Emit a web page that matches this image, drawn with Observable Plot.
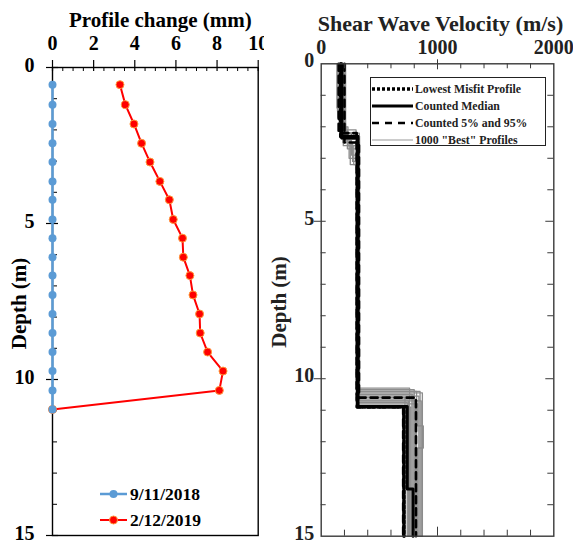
<!DOCTYPE html>
<html><head><meta charset="utf-8">
<script src="https://cdn.jsdelivr.net/npm/d3@7"></script>
<script src="https://cdn.jsdelivr.net/npm/@observablehq/plot@0.6"></script>
<style>
html,body{margin:0;padding:0;background:#fff;}
#wrap{position:relative;width:573px;height:544px;overflow:hidden;font-family:"Liberation Serif","Times New Roman",serif;font-weight:bold;}
.panel{position:absolute;top:0;}
.leg{position:absolute;display:flex;align-items:center;white-space:nowrap;}
</style></head><body><div id="wrap"></div>
<script>
// ---------- LEFT PANEL DATA ----------
const seriesNames = ["9/11/2018", "2/12/2019"];
const depths = [0.55, 1.19, 1.81, 2.43, 3.03, 3.65, 4.24, 4.87, 5.47, 6.08, 6.67, 7.29, 7.90, 8.51, 9.12, 9.73, 10.35, 10.96];
const change2018 = [0, 0, 0, 0, 0, 0, 0, 0, 0, 0, 0, 0, 0, 0, 0, 0, 0, 0];
const change2019 = [3.28, 3.54, 3.96, 4.33, 4.74, 5.22, 5.68, 5.87, 6.32, 6.36, 6.68, 6.83, 7.15, 7.18, 7.54, 8.29, 8.11, 0];
const leftXTicks = [0, 2, 4, 6, 8, 10];
const leftXMinor = [0.5, 1, 1.5, 2.5, 3, 3.5, 4.5, 5, 5.5, 6.5, 7, 7.5, 8.5, 9, 9.5];
const leftYTicks = [0, 5, 10, 15];
const leftYMinor = [1, 2, 3, 4, 6, 7, 8, 9, 11, 12, 13, 14];

// ---------- RIGHT PANEL DATA ----------
const legendNames = ["Lowest Misfit Profile", "Counted Median", "Counted 5% and 95%", "1000 \"Best\" Profiles"];
const misfitDepths = [0, 2.35, 10.9, 15];
const misfitVs = [168, 312, 712];
const medianDepths = [0, 2.3, 10.88, 13.5, 15];
const medianVs = [178, 316, 740, 790];
const p5Depths = [0, 2.2, 10.9, 15];
const p5Vs = [150, 305, 705];
const p95Depths = [0, 2.5, 10.6, 15];
const p95Vs = [200, 325, 815];
const bestDepths = [
  [0, 1.5, 2.1, 10.3, 15],
  [0, 1.8, 2.2, 10.35, 15],
  [0, 2.0, 2.6, 10.4, 15],
  [0, 2.3, 3.2, 10.45, 15],
  [0, 1.9, 2.4, 10.5, 15],
  [0, 2.2, 2.9, 10.55, 15],
  [0, 1.7, 2.3, 10.6, 15],
  [0, 2.4, 3.0, 10.65, 15],
  [0, 2.1, 2.7, 10.7, 15],
  [0, 1.6, 2.2, 10.75, 15],
  [0, 2.5, 3.1, 10.8, 11.5, 12.2, 15],
  [0, 2.0, 2.5, 10.85, 15],
  [0, 1.4, 2.3, 10.5, 15],
  [0, 2.6, 3.2, 10.9, 15],
  [0, 2.2, 10.4, 15],
  [0, 2.3, 10.7, 15]
];
const bestVs = [
  [140, 180, 300, 760],
  [150, 200, 305, 800],
  [160, 230, 318, 850],
  [170, 250, 320, 870],
  [155, 210, 310, 780],
  [175, 260, 322, 840],
  [145, 195, 308, 720],
  [180, 240, 315, 810],
  [165, 225, 325, 860],
  [150, 190, 305, 740],
  [185, 270, 318, 830, 878, 830],
  [160, 215, 312, 700],
  [135, 185, 302, 790],
  [190, 280, 320, 770],
  [200, 328, 820],
  [210, 330, 750]
];
const rightXTicks = [0, 1000, 2000];
const rightXMinor = [200, 400, 600, 800, 1200, 1400, 1600, 1800];
const rightXMajor = [1000];
const rightYTicks = [0, 5, 10, 15];
const rightYMinor = [1, 2, 3, 4, 6, 7, 8, 9, 11, 12, 13, 14];
const rightYMajor = [5, 10];

// ---------- STYLES / LAYOUT ----------
const FONT = '"Liberation Serif", "Times New Roman", serif';
const seriesColors = ["#5b9bd5", "#ff0000"];
const H = 544;
const wrap = document.getElementById("wrap");

function stepPoints(ds, vs) {
  const pts = [];
  vs.forEach((v, i) => { pts.push({v, d: ds[i]}); pts.push({v, d: ds[i + 1]}); });
  return pts;
}

// ---------- LEFT PLOT ----------
const LW = 264, LM = {top: 67, right: 6.3, bottom: 9, left: 52};
const LiW = LW - LM.left - LM.right, LiH = H - LM.top - LM.bottom;
const rows2018 = depths.map((d, i) => ({depth: d, value: change2018[i]}));
const rows2019 = depths.map((d, i) => ({depth: d, value: change2019[i]}));

const left = Plot.plot({
  width: LW, height: H,
  marginTop: LM.top, marginRight: LM.right, marginBottom: LM.bottom, marginLeft: LM.left,
  x: {domain: [0, 10]},
  y: {domain: [0, 15], reverse: true},
  style: {fontFamily: FONT, fontWeight: "bold", fontSize: "20px", color: "#000", background: "#fff"},
  marks: [
    Plot.frame({stroke: "#000", strokeWidth: 1.4}),
    Plot.tickX(leftXMinor, {insetBottom: LiH - 4, stroke: "#000", strokeWidth: 1}),
    Plot.tickX(leftXTicks, {insetTop: -7, insetBottom: LiH - 4, stroke: "#000", strokeWidth: 1.2}),
    Plot.tickY(leftYMinor, {insetRight: LiW - 5, stroke: "#000", strokeWidth: 1}),
    Plot.tickY(leftYTicks, {insetLeft: -6, insetRight: LiW - 6, stroke: "#000", strokeWidth: 1.2}),
    Plot.axisX(leftXTicks, {anchor: "top", tickSize: 0, tickPadding: 18, label: null, fontSize: 20}),
    Plot.axisY(leftYTicks, {anchor: "left", tickSize: 0, tickPadding: 18, label: null, fontSize: 20, dy: -2}),
    Plot.text(["Profile change (mm)"], {text: d => d, frameAnchor: "top", dx: 5, dy: -47, fontSize: 21, lineAnchor: "middle", textAnchor: "middle"}),
    Plot.text(["Depth (m)"], {text: d => d, frameAnchor: "left", dx: -33, dy: 2, rotate: -90, fontSize: 21, lineAnchor: "middle", textAnchor: "middle"}),
    Plot.line(rows2019, {x: "value", y: "depth", stroke: seriesColors[1], strokeWidth: 2}),
    Plot.dot(rows2019, {x: "value", y: "depth", r: 4, fill: seriesColors[1], stroke: "#ff9a3c", strokeWidth: 1}),
    Plot.line(rows2018, {x: "value", y: "depth", stroke: seriesColors[0], strokeWidth: 2.5}),
    Plot.dot(rows2018, {x: "value", y: "depth", r: 4, fill: seriesColors[0]})
  ]
});
left.classList.add("panel");
left.style.left = "0px";
wrap.appendChild(left);

// ---------- RIGHT PLOT ----------
const RX = 264, RW = 309, RM = {top: 63.3, right: 19.7, bottom: 8.3, left: 56.7};
const RiW = RW - RM.left - RM.right, RiH = H - RM.top - RM.bottom;
const axisGray = "#3a3a3a";
const grayMarks = bestDepths.map((ds, i) => Plot.line(stepPoints(ds, bestVs[i]), {x: "v", y: "d", stroke: "#8c8c8c", strokeWidth: 1.3}));

const right = Plot.plot({
  width: RW, height: H,
  marginTop: RM.top, marginRight: RM.right, marginBottom: RM.bottom, marginLeft: RM.left,
  x: {domain: [0, 2000]},
  y: {domain: [0, 15], reverse: true},
  style: {fontFamily: FONT, fontWeight: "bold", fontSize: "20px", color: "#222", background: "#fff"},
  marks: [
    ...grayMarks,
    Plot.line(stepPoints(p5Depths, p5Vs), {x: "v", y: "d", stroke: "#000", strokeWidth: 2.6, strokeDasharray: "7,5"}),
    Plot.line(stepPoints(p95Depths, p95Vs), {x: "v", y: "d", stroke: "#000", strokeWidth: 2.6, strokeDasharray: "7,5"}),
    Plot.line(stepPoints(medianDepths, medianVs), {x: "v", y: "d", stroke: "#000", strokeWidth: 3}),
    Plot.line(stepPoints(misfitDepths, misfitVs), {x: "v", y: "d", stroke: "#000", strokeWidth: 3.5, strokeDasharray: "3,2"}),
    Plot.frame({stroke: axisGray, strokeWidth: 1.4}),
    Plot.tickX(rightXMinor, {insetBottom: RiH - 5, stroke: axisGray}),
    Plot.tickX(rightXMajor, {insetTop: -4, insetBottom: RiH - 6, stroke: axisGray}),
    Plot.tickX(rightXMinor, {insetTop: RiH - 6, stroke: axisGray}),
    Plot.tickX(rightXMajor, {insetTop: RiH - 9, stroke: axisGray}),
    Plot.tickY(rightYMinor, {insetRight: RiW - 5, stroke: axisGray}),
    Plot.tickY(rightYMajor, {insetLeft: -7, insetRight: RiW - 5, stroke: axisGray}),
    Plot.tickY(rightYMinor, {insetLeft: RiW - 6, stroke: axisGray}),
    Plot.tickY(rightYMajor, {insetLeft: RiW - 8, stroke: axisGray}),
    Plot.axisX(rightXTicks, {anchor: "top", tickSize: 0, tickPadding: 10, label: null, fontSize: 20, tickFormat: d => String(d)}),
    Plot.axisY(rightYTicks, {anchor: "left", tickSize: 0, tickPadding: 7, label: null, fontSize: 20, dy: -3}),
    Plot.text(["Shear Wave Velocity (m/s)"], {text: d => d, frameAnchor: "top", dx: 3, dy: -40, fontSize: 22, lineAnchor: "middle", textAnchor: "middle"}),
    Plot.text(["Depth (m)"], {text: d => d, frameAnchor: "left", dx: -42, dy: 2, rotate: -90, fontSize: 21, lineAnchor: "middle", textAnchor: "middle"})
  ]
});
right.classList.add("panel");
right.style.left = RX + "px";
wrap.appendChild(right);

// ---------- LEGENDS ----------
function swatch(w, h, {stroke, strokeWidth, dash, dot}) {
  let s = `<svg width="${w}" height="${h}" style="display:block"><line x1="0" x2="${w}" y1="${h / 2}" y2="${h / 2}" stroke="${stroke}" stroke-width="${strokeWidth}"${dash ? ` stroke-dasharray="${dash}"` : ""}/>`;
  if (dot) s += `<circle cx="${w / 2}" cy="${h / 2}" r="4" fill="${dot.fill}"${dot.stroke ? ` stroke="${dot.stroke}"` : ""}/>`;
  return s + "</svg>";
}
function addRow(parent, x, yc, sw, label, fontSize, color, gap) {
  const d = document.createElement("div");
  d.className = "leg";
  d.style.left = x + "px";
  d.style.top = (yc - 10) + "px";
  d.style.height = "20px";
  d.innerHTML = sw + `<span style="margin-left:${gap}px;font-size:${fontSize}px;color:${color};line-height:20px">${label}</span>`;
  parent.appendChild(d);
}
// left legend
addRow(wrap, 100, 494, swatch(27, 12, {stroke: seriesColors[0], strokeWidth: 2.5, dot: {fill: seriesColors[0]}}), seriesNames[0], 17.5, "#000", 3);
addRow(wrap, 100, 520, swatch(27, 12, {stroke: seriesColors[1], strokeWidth: 2, dot: {fill: seriesColors[1], stroke: "#ff9a3c"}}), seriesNames[1], 17.5, "#000", 3);

// right legend box
const box = document.createElement("div");
box.style.cssText = "position:absolute;left:370px;top:77px;width:174px;height:67px;border:1.3px solid #222;background:#fff;";
wrap.appendChild(box);
const rowYs = [11, 27.5, 44.5, 61.5];
const rightSwatches = [
  {stroke: "#000", strokeWidth: 3.5, dash: "3,2"},
  {stroke: "#000", strokeWidth: 3},
  {stroke: "#000", strokeWidth: 2.6, dash: "7,6"},
  {stroke: "#999", strokeWidth: 1}
];
legendNames.forEach((name, i) => addRow(box, 1, rowYs[i], swatch(41, 8, rightSwatches[i]), name, 11.8, "#222", 2));
</script>
</body></html>
